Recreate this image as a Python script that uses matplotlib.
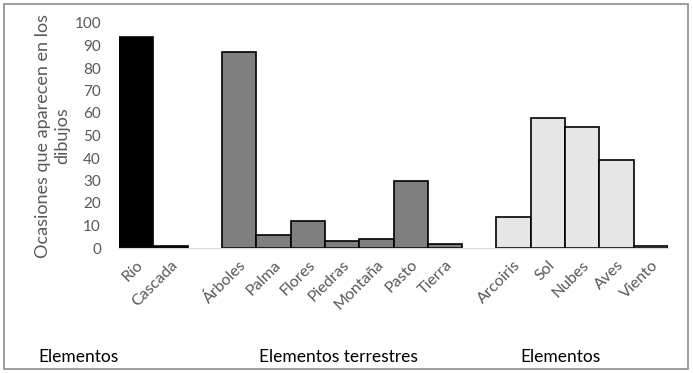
import numpy as np
import matplotlib
matplotlib.use('Agg')
from matplotlib import pyplot as plt
from matplotlib.patches import Rectangle

plt.rcParams['font.family'] = ['Lato', 'DejaVu Sans']

# data
agua_labels = ['Río', 'Cascada']
agua_values = [94, 1]
tierra_labels = ['Árboles', 'Palma', 'Flores', 'Piedras', 'Montaña', 'Pasto', 'Tierra']
tierra_values = [87, 6, 12, 3, 4, 30, 2]
cielo_labels = ['Arcoiris', 'Sol', 'Nubes', 'Aves', 'Viento']
cielo_values = [14, 58, 54, 39, 1]

group_titles = ['Elementos', 'Elementos terrestres', 'Elementos']
colors = ['black', '#7f7f7f', '#e6e6e6']

fig = plt.figure(figsize=(6.93, 3.73), dpi=100)
ax = fig.add_axes([119 / 693, 125 / 373, 549 / 693, 225 / 373])

groups = [(agua_labels, agua_values), (tierra_labels, tierra_values), (cielo_labels, cielo_values)]
pos = 0
ticks, ticklabels = [], []
for (labels, values), c in zip(groups, colors):
    x = np.arange(pos, pos + len(values))
    ax.bar(x, values, width=1.0, color=c, edgecolor='black', linewidth=1.2)
    ticks.extend(x)
    ticklabels.extend(labels)
    pos += len(values) + 1

ax.set_xlim(-0.5, pos - 1.5)
ax.set_ylim(0, 100)
ax.set_yticks(range(0, 101, 10))
ax.set_xticks(ticks)
ax.set_xticklabels(ticklabels, rotation=45, ha='right', rotation_mode='anchor')
ax.tick_params(axis='both', length=0, labelcolor='#595959')
ax.tick_params(axis='y', pad=13, labelsize=11)
ax.tick_params(axis='x', pad=7, labelsize=11.5)

for s in ['top', 'right', 'left']:
    ax.spines[s].set_visible(False)
ax.spines['bottom'].set_color('#d9d9d9')

ax.set_ylabel('Ocasiones que aparecen en los\ndibujos', fontsize=13, color='#595959',
              labelpad=3, linespacing=1.25)

fig.text(78 / 693, 1 - 357 / 373, group_titles[0], ha='center', va='center', fontsize=12.5)
fig.text(338 / 693, 1 - 357 / 373, group_titles[1], ha='center', va='center', fontsize=12.5)
fig.text(560 / 693, 1 - 357 / 373, group_titles[2], ha='center', va='center', fontsize=12.5)

fig.patches.append(Rectangle((4 / 693, 4 / 373), 684 / 693, 365 / 373, transform=fig.transFigure,
                             fill=False, edgecolor='#8c8c8c', linewidth=1.2))

fig.savefig('out.png', dpi=100)
